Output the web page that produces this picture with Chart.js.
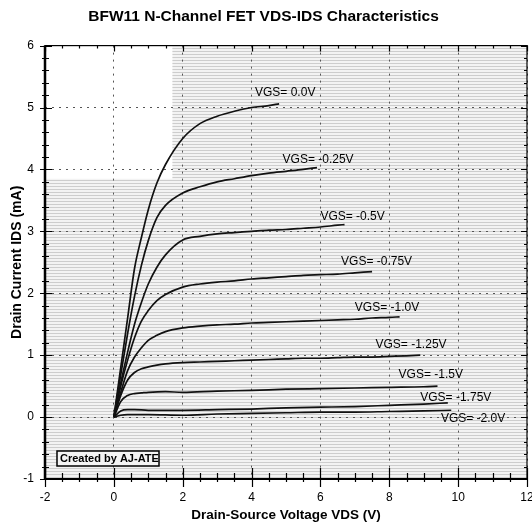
<!DOCTYPE html>
<html><head><meta charset="utf-8">
<script src="https://cdn.jsdelivr.net/npm/chart.js@4/dist/chart.umd.min.js"></script>
<style>html,body{margin:0;padding:0;background:#fff;}</style>
</head><body>
<canvas id="c" width="532" height="528" style="width:532px;height:528px;display:block"></canvas>
<script>
// ---- text ----
const chartTitle = 'BFW11 N-Channel FET VDS-IDS Characteristics';
const xAxisTitle = 'Drain-Source Voltage VDS (V)';
const yAxisTitle = 'Drain Current IDS (mA)';
const creditText = 'Created by AJ-ATE';

// ---- curve labels (gate-source voltage) and where they sit (VDS, IDS) ----
const vgsLabels = ['VGS= 0.0V','VGS= -0.25V','VGS= -0.5V','VGS= -0.75V','VGS= -1.0V','VGS= -1.25V','VGS= -1.5V','VGS= -1.75V','VGS= -2.0V'];
const labelVds  = [4.1, 4.9, 6.0, 6.6, 7.0, 7.6, 8.27, 8.9, 9.5];
const labelIds  = [5.24, 4.16, 3.24, 2.51, 1.76, 1.17, 0.68, 0.32, -0.02];

// ---- measured curves: VDS (V) and IDS (mA) ----
const vds00  = [0, 0.2, 0.4, 0.6, 0.8, 1.0, 1.25, 1.5, 2.0, 2.5, 3.0, 3.5, 4.0, 4.5, 4.8];
const ids00  = [0, 0.8, 1.6, 2.4, 2.9, 3.35, 3.78, 4.08, 4.5, 4.74, 4.86, 4.94, 5.0, 5.03, 5.06];

const vds025 = [0, 0.2, 0.4, 0.6, 0.8, 1.0, 1.25, 1.5, 2.0, 2.5, 3.0, 3.5, 4.0, 4.5, 5.0, 5.5, 5.9];
const ids025 = [0, 0.68, 1.35, 1.95, 2.45, 2.85, 3.22, 3.42, 3.62, 3.72, 3.8, 3.85, 3.9, 3.94, 3.97, 4.0, 4.03];

const vds050 = [0, 0.2, 0.4, 0.6, 0.8, 1.0, 1.25, 1.5, 2.0, 2.5, 3.0, 3.5, 4.0, 4.5, 5.0, 5.5, 6.0, 6.5, 6.7];
const ids050 = [0, 0.55, 1.05, 1.5, 1.85, 2.15, 2.42, 2.62, 2.86, 2.92, 2.96, 2.98, 3.0, 3.02, 3.03, 3.05, 3.07, 3.1, 3.11];

const vds075 = [0, 0.2, 0.4, 0.6, 0.8, 1.0, 1.25, 1.5, 2.0, 2.5, 3.0, 3.5, 4.0, 4.5, 5.0, 5.5, 6.0, 6.5, 7.0, 7.5];
const ids075 = [0, 0.5, 0.92, 1.28, 1.55, 1.72, 1.88, 1.98, 2.1, 2.15, 2.18, 2.2, 2.23, 2.25, 2.27, 2.29, 2.3, 2.31, 2.33, 2.35];

const vds100 = [0, 0.2, 0.4, 0.6, 0.8, 1.0, 1.25, 1.5, 2.0, 2.5, 3.0, 3.5, 4.0, 4.5, 5.0, 5.5, 6.0, 6.5, 7.0, 7.5, 8.0, 8.3];
const ids100 = [0, 0.4, 0.75, 0.97, 1.12, 1.24, 1.32, 1.38, 1.44, 1.47, 1.49, 1.5, 1.52, 1.53, 1.54, 1.55, 1.56, 1.57, 1.58, 1.6, 1.61, 1.62];

const vds125 = [0, 0.2, 0.4, 0.6, 0.8, 1.0, 1.25, 1.5, 2.0, 2.5, 3.0, 3.5, 4.0, 4.5, 5.0, 5.5, 6.0, 6.5, 7.0, 7.5, 8.0, 8.5, 8.9];
const ids125 = [0, 0.35, 0.6, 0.72, 0.78, 0.81, 0.84, 0.86, 0.88, 0.89, 0.9, 0.91, 0.92, 0.93, 0.94, 0.95, 0.95, 0.96, 0.97, 0.97, 0.98, 0.99, 1.0];

const vds150 = [0, 0.2, 0.4, 0.6, 0.8, 1.0, 1.5, 2.0, 3.0, 4.0, 5.0, 6.0, 7.0, 8.0, 9.0, 9.4];
const ids150 = [0, 0.25, 0.35, 0.38, 0.39, 0.4, 0.41, 0.4, 0.42, 0.43, 0.45, 0.46, 0.47, 0.48, 0.49, 0.5];

const vds175 = [0, 0.2, 0.4, 0.6, 1.0, 2.0, 3.0, 4.0, 5.0, 6.0, 7.0, 8.0, 9.0, 9.7];
const ids175 = [0, 0.1, 0.12, 0.12, 0.11, 0.11, 0.12, 0.13, 0.15, 0.16, 0.17, 0.19, 0.21, 0.23];

const vds200 = [0, 0.2, 0.4, 1.0, 2.0, 3.0, 4.0, 5.0, 6.0, 7.0, 8.0, 9.0, 9.8];
const ids200 = [0, 0.03, 0.04, 0.04, 0.03, 0.05, 0.06, 0.07, 0.08, 0.08, 0.09, 0.1, 0.11];

const curveVds = [vds00, vds025, vds050, vds075, vds100, vds125, vds150, vds175, vds200];
const curveIds = [ids00, ids025, ids050, ids075, ids100, ids125, ids150, ids175, ids200];

const FONT = "'Liberation Sans', Arial, sans-serif";
const NARROW = "'Liberation Sans Narrow', 'Liberation Sans', Arial, sans-serif";

const datasets = curveVds.map((xs, i) => ({
  label: vgsLabels[i],
  data: xs.map((x, j) => ({x: x, y: curveIds[i][j]})),
  showLine: true,
  borderColor: '#111',
  borderWidth: 1.7,
  pointRadius: 0,
  cubicInterpolationMode: 'monotone',
  fill: false
}));

// striped scan-like background pattern
const pc = document.createElement('canvas');
pc.width = 4; pc.height = 3;
const pctx = pc.getContext('2d');
pctx.fillStyle = '#f3f3f3'; pctx.fillRect(0,0,4,3);
pctx.fillStyle = '#cdcdcd'; pctx.fillRect(0,0,4,1);

const decor = {
  id: 'decor',
  beforeDraw(chart) {
    const {ctx, chartArea: a, scales: {x, y}} = chart;
    ctx.save();
    ctx.fillStyle = ctx.createPattern(pc, 'repeat');
    ctx.fillRect(a.left, a.top, a.right - a.left, a.bottom - a.top);
    ctx.fillStyle = '#ffffff';
    ctx.fillRect(a.left, a.top, x.getPixelForValue(1.7) - a.left, y.getPixelForValue(3.85) - a.top);
    ctx.restore();
  },
  afterDraw(chart) {
    const {ctx, chartArea: a, scales: {x, y}} = chart;
    ctx.save();
    ctx.strokeStyle = '#000';
    // frame
    ctx.lineWidth = 1.2;
    ctx.strokeRect(a.left, a.top, a.right - a.left, a.bottom - a.top);
    ctx.lineWidth = 2.5;
    ctx.beginPath(); ctx.moveTo(a.left, a.top); ctx.lineTo(a.left, a.bottom); ctx.stroke();
    ctx.lineWidth = 2;
    ctx.beginPath(); ctx.moveTo(a.left, a.bottom); ctx.lineTo(a.right, a.bottom); ctx.stroke();
    // y ticks
    ctx.lineWidth = 1.2;
    for (let v = -1; v <= 6.001; v += 0.2) {
      const py = Math.round(y.getPixelForValue(v)) + 0.5;
      const major = Math.abs(v - Math.round(v)) < 1e-6;
      ctx.beginPath();
      ctx.moveTo(a.left - (major ? 5 : 3), py); ctx.lineTo(a.left + (major ? 7 : 4), py);
      ctx.moveTo(a.right, py); ctx.lineTo(a.right - (major ? 6 : 3), py);
      ctx.stroke();
    }
    // x ticks
    for (let v = -2; v <= 12.001; v += 0.5) {
      const px = Math.round(x.getPixelForValue(v)) + 0.5;
      const major = Math.abs(v / 2 - Math.round(v / 2)) < 1e-6;
      ctx.beginPath();
      ctx.moveTo(px, a.bottom - (major ? 11 : 6)); ctx.lineTo(px, a.bottom + (major ? 8 : 3));
      ctx.moveTo(px, a.top); ctx.lineTo(px, a.top + (major ? 6 : 3));
      ctx.stroke();
    }
    // curve labels
    ctx.fillStyle = '#000';
    ctx.font = '12px ' + FONT;
    ctx.textAlign = 'left';
    ctx.textBaseline = 'middle';
    vgsLabels.forEach((t, i) => {
      ctx.fillText(t, x.getPixelForValue(labelVds[i]), y.getPixelForValue(labelIds[i]));
    });
    // credit box
    const bx = a.left + 12, by = a.bottom - 28, bw = 102, bh = 15;
    ctx.fillStyle = '#f4f4f4';
    ctx.fillRect(bx, by, bw, bh);
    ctx.lineWidth = 1.5;
    ctx.strokeRect(bx, by, bw, bh);
    ctx.fillStyle = '#000';
    ctx.font = 'bold 11px ' + NARROW;
    ctx.fillText(creditText, bx + 3, by + bh / 2 + 0.5);
    ctx.restore();
  }
};

new Chart(document.getElementById('c'), {
  type: 'scatter',
  data: { datasets },
  plugins: [decor],
  options: {
    responsive: false,
    devicePixelRatio: 1,
    animation: false,
    layout: { padding: { left: 0, right: 5, top: 0, bottom: 0 } },
    plugins: {
      legend: { display: false },
      tooltip: { enabled: false },
      title: {
        display: true, text: chartTitle, color: '#000',
        font: { family: FONT, size: 15.5, weight: 'bold' },
        padding: { top: 7, bottom: 20 }
      }
    },
    scales: {
      x: {
        type: 'linear', min: -2, max: 12,
        ticks: { stepSize: 2, color: '#000', padding: 11, font: { family: FONT, size: 12 } },
        grid: { color: '#555', lineWidth: 1, drawTicks: false },
        border: { display: false, dash: [2, 5] },
        title: { display: true, text: xAxisTitle, color: '#000', font: { family: NARROW, size: 13.5, weight: 'bold' }, padding: { top: 5, bottom: 5 } },
        afterFit(s) { s.height = 49; s.paddingLeft = 0; s.paddingRight = 0; }
      },
      y: {
        type: 'linear', min: -1, max: 6,
        ticks: { stepSize: 1, color: '#000', padding: 11, font: { family: FONT, size: 12 } },
        grid: { color: '#555', lineWidth: 1, drawTicks: false },
        border: { display: false, dash: [2, 5] },
        title: { display: true, text: yAxisTitle, color: '#000', font: { family: NARROW, size: 14, weight: 'bold' }, padding: { top: 9, bottom: 9 } },
        afterFit(s) { s.width = 45; s.paddingTop = 0; s.paddingBottom = 0; }
      }
    }
  }
});
</script>
</body></html>
